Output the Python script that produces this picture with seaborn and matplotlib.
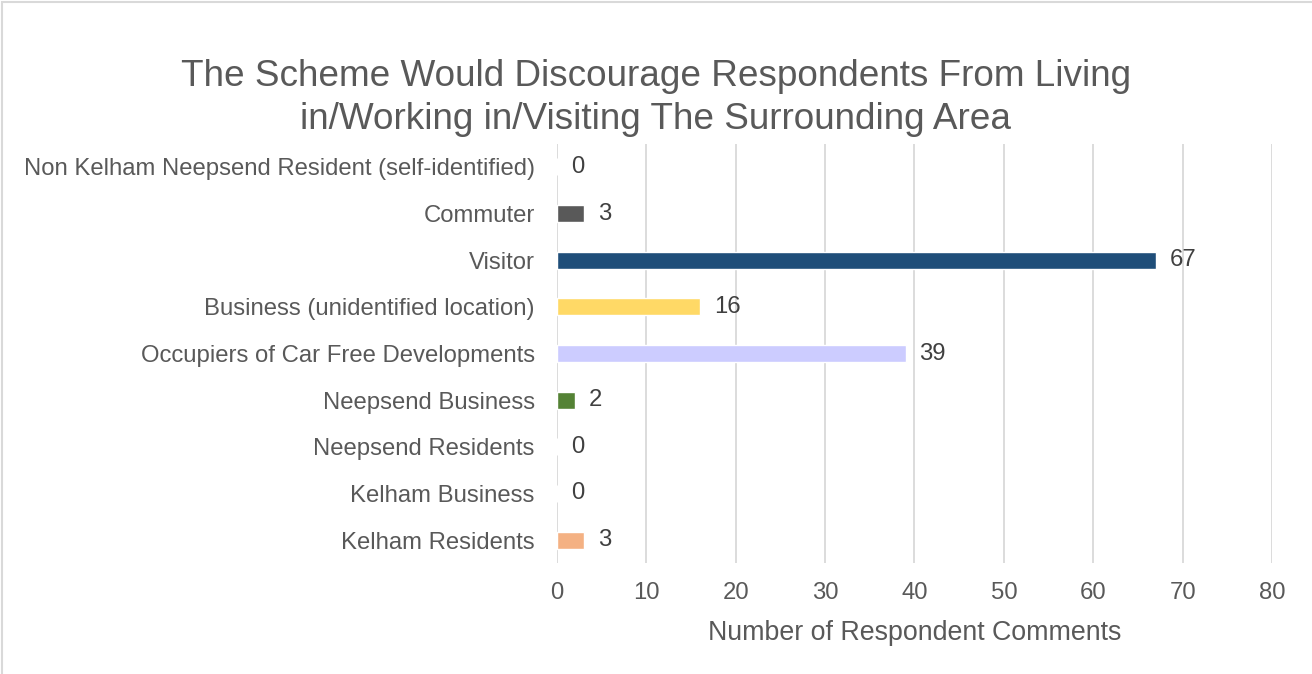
import matplotlib
matplotlib.use("Agg")
import matplotlib.pyplot as plt
import seaborn as sns
import pandas as pd
from matplotlib.patches import Rectangle

categories = [
    "Non Kelham Neepsend Resident (self-identified)",
    "Commuter",
    "Visitor",
    "Business (unidentified location)",
    "Occupiers of Car Free Developments",
    "Neepsend Business",
    "Neepsend Residents",
    "Kelham Business",
    "Kelham Residents",
]
values = [0, 3, 67, 16, 39, 2, 0, 0, 3]
colors = ["#a5a5a5", "#595959", "#1f4e79", "#ffd966", "#ccccff",
          "#548235", "#9dc3e6", "#c00000", "#f4b183"]
ticks = [0, 10, 20, 30, 40, 50, 60, 70, 80]

sns.set_theme(style="white")
plt.rcParams["font.family"] = ["Liberation Sans", "DejaVu Sans"]

df = pd.DataFrame({"cat": categories, "val": values})

fig = plt.figure(figsize=(13.12, 6.74), dpi=100)
ax = fig.add_axes([0.4245, 0.164, 0.545, 0.623])

sns.barplot(data=df, y="cat", x="val", hue="cat", order=categories,
            palette=dict(zip(categories, colors)), orient="h",
            width=0.36, legend=False, ax=ax, saturation=1)

ax.set_xlim(0, 80)
ax.set_ylim(len(categories) - 0.5, -0.5)
ax.set_xticks(ticks)
ax.grid(axis="x", color="#d9d9d9", linewidth=1.3)
ax.set_axisbelow(True)
for s in ax.spines.values():
    s.set_visible(False)
ax.tick_params(axis="both", length=0, labelsize=17.2, labelcolor="#595959")
ax.tick_params(axis="x", pad=13)
ax.tick_params(axis="y", pad=16)
ax.set_ylabel("")
ax.set_xlabel("Number of Respondent Comments", fontsize=19.3, color="#595959", labelpad=12)

for container in ax.containers:
    ax.bar_label(container, fmt="%d", padding=10, fontsize=17.2, color="#404040",
                 label_type="edge")

fig.text(0.5, 0.855, "The Scheme Would Discourage Respondents From Living\nin/Working in/Visiting The Surrounding Area",
         ha="center", va="center", fontsize=26.6, color="#595959", linespacing=1.3)

fig.patches.append(Rectangle((0.0015, -0.01), 1.1, 1.0065, transform=fig.transFigure,
                             fill=False, edgecolor="#d9d9d9", linewidth=1.5))

fig.savefig("out.png", dpi=100, facecolor="white")
